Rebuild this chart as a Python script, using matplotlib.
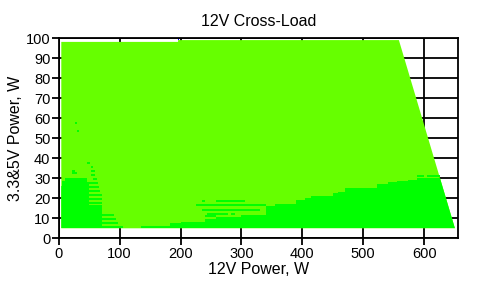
import numpy as np
import matplotlib
matplotlib.use("Agg")
import matplotlib.pyplot as plt
from matplotlib.patches import Polygon

# outer boundary of the tested region (12V W, 3.3&5V W)
outer_x = [4.3, 4.3, 196, 196, 558.5, 650.5]
outer_y = [5, 98.2, 98.2, 99.1, 99.1, 5]

# upper edge of the solid bright-green zone (step, starting at each x)
bright_x = [4, 6, 10, 46, 49, 71.5, 106, 135, 183, 201, 240, 259, 300, 341,
            355, 390, 405, 415, 429, 451, 459, 470, 500, 522, 540, 555, 574,
            588, 660]
bright_top = [26.3, 28.6, 30.3, 28.3, 16.6, 6.3, 5, 6, 7.5, 8.3, 9.5, 10.8,
              11.5, 16.2, 17.2, 19.2, 20.2, 21.3, 21.3, 22.5, 23.3, 25, 25.3,
              27, 28, 28.7, 29.3, 30, 30]

# loose bright-green strips: start x, end x, lower y (1 W high)
strip_x0 = [46, 52.5, 52.5, 52.5, 55.8, 49, 49, 49, 49, 49, 49,
            22.5, 22.5, 27, 30,
            71.5, 71.5, 71.5,
            243, 283, 236, 226, 236, 259, 240,
            588, 604]
strip_x1 = [52, 56, 59, 59, 62.4, 64, 67, 68, 71.5, 71.5, 71.5,
            26, 30, 30, 33,
            91, 94.5, 98,
            278, 289, 330, 341, 240, 306, 259,
            600, 626]
strip_y = [37.3, 35.3, 33.3, 31.3, 29.3, 27.3, 25.3, 23.3, 21.3, 19.3, 17.3,
           33.2, 32.2, 57.3, 53.3,
           11.3, 9.3, 7.3,
           11.4, 11.4, 13.5, 16.2, 18.2, 18.2, 10.5,
           30.8, 30.8]

x_ticks = [0, 100, 200, 300, 400, 500, 600]
y_ticks = [0, 10, 20, 30, 40, 50, 60, 70, 80, 90, 100]

light = "#66ff00"
bright = "#00ff00"

plt.rcParams['font.family'] = ['Liberation Sans', 'DejaVu Sans']

fig = plt.figure(figsize=(4.87, 2.86), dpi=100)
ax = fig.add_axes([0.1205, 0.1668, 0.8205, 0.6993])

ax.set_xlim(0, 656)
ax.set_ylim(0, 100)
ax.set_axisbelow(True)
ax.grid(True, color="black", linewidth=1.3)

region = Polygon(list(zip(outer_x, outer_y)), closed=True,
                 facecolor=light, edgecolor="none", zorder=2)
ax.add_patch(region)

fill = ax.fill_between(bright_x, 5, bright_top, step="post",
                       color=bright, linewidth=0, zorder=3)
fill.set_clip_path(region)

widths = np.array(strip_x1) - np.array(strip_x0)
ax.bar(strip_x0, 1.0, width=widths, bottom=strip_y, align="edge",
       color=bright, linewidth=0, zorder=3)

# single stray blue point at the top
ax.bar([196], [0.6], width=2, bottom=[99.1], align="edge",
       color="blue", linewidth=0, zorder=4)

ax.set_xticks(x_ticks)
ax.set_yticks(y_ticks)
ax.tick_params(direction="out", length=5, width=1.3, labelsize=10.5,
               colors="black", pad=1)
for s in ax.spines.values():
    s.set_linewidth(1.3)

ax.set_title("12V Cross-Load", fontsize=11.5, pad=9)
ax.set_xlabel("12V Power, W", fontsize=11.5, labelpad=1)
ax.set_ylabel("3.3&5V Power, W", fontsize=11.5, labelpad=2)

fig.savefig("out.png", dpi=100)
